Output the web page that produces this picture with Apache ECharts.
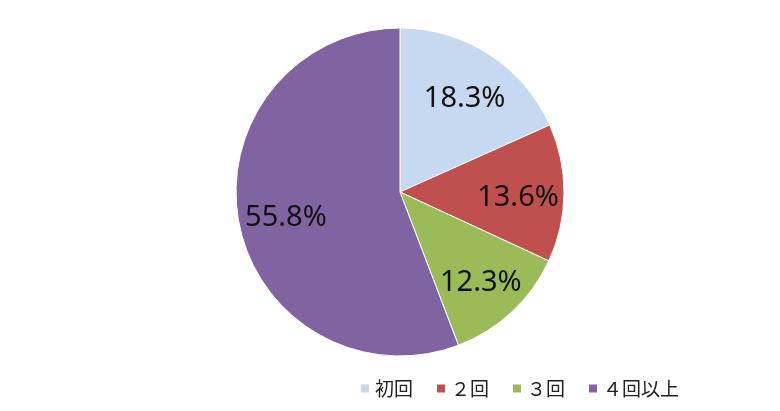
<!DOCTYPE html>
<html style="height:100%;">
<head>
    <meta charset="utf-8">
    <script src="https://cdn.jsdelivr.net/npm/echarts@6/dist/echarts.min.js"></script>
</head>
<body style="height:100%;margin:0;background:#fff;">
    <div id="main" style="width:780px;height:411px;"></div>
<script>
    // 回数別の割合 (%)
    var categories = ['初回', '２回', '３回', '４回以上'];
    var values = [18.3, 13.6, 12.3, 55.8];
    var colors = ['#c6d9f1', '#c0504d', '#9bbb59', '#8064a2'];

    var pieData = [];
    for (var i = 0; i < categories.length; i++) {
        pieData.push({name: categories[i], value: values[i], itemStyle: {color: colors[i]}});
    }

    var myChart = echarts.init(document.getElementById('main'));
    var option = {
        animation: false,
        legend: {
            data: categories,
            left: 354,
            top: 374,
            itemWidth: 10,
            itemHeight: 10,
            itemGap: 22,
            icon: 'rect',
            textStyle: {
                fontSize: 19,
                color: '#222',
                fontFamily: '"Noto Sans CJK JP", sans-serif'
            }
        },
        series: [
            {
                // 扇形本体
                type: 'pie',
                center: [400, 192],
                radius: 164,
                startAngle: 90,
                clockwise: true,
                silent: true,
                label: {show: false},
                labelLine: {show: false},
                itemStyle: {borderColor: '#fff', borderWidth: 1},
                data: pieData
            },
            {
                // ラベル位置用 (透明)
                type: 'pie',
                center: [400, 192],
                radius: [64, 164],
                startAngle: 90,
                clockwise: true,
                silent: true,
                legendHoverLink: false,
                itemStyle: {color: 'rgba(0,0,0,0)', borderWidth: 0},
                label: {
                    show: true,
                    position: 'inside',
                    offset: [1, 5],
                    formatter: function (p) { return p.value.toFixed(1) + '%'; },
                    fontSize: 29,
                    color: '#111',
                    fontFamily: '"Noto Sans", "Open Sans", sans-serif'
                },
                labelLine: {show: false},
                data: values.map(function (v, i) { return {name: categories[i] + ' ', value: v}; })
            }
        ]
    };
    myChart.setOption(option);
</script>
</body>
</html>
